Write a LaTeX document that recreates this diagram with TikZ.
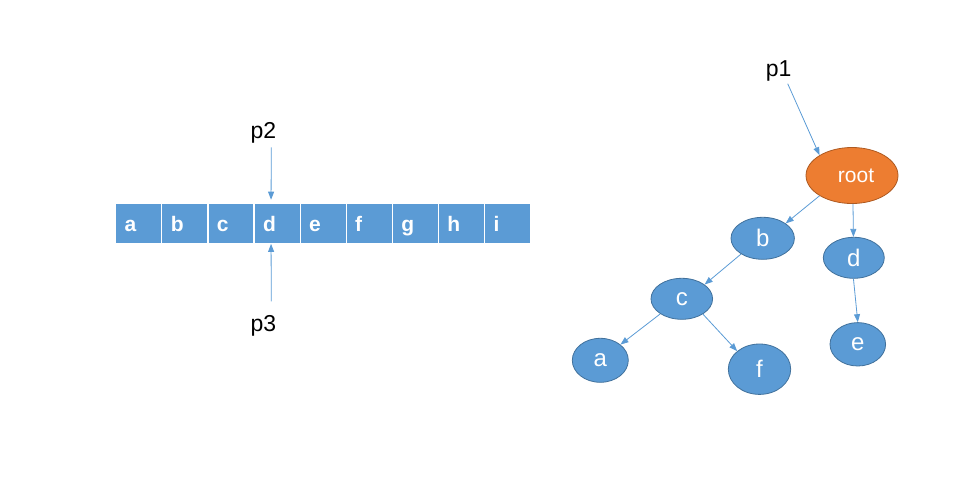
\documentclass[tikz,border=0pt]{standalone}
\usepackage{fontspec}
\setmainfont{Liberation Sans}
\usetikzlibrary{shapes.geometric,arrows.meta}
\definecolor{cellblue}{HTML}{5B9BD5}
\definecolor{edgeblue}{HTML}{41719C}
\definecolor{rootorange}{HTML}{ED7D31}
\definecolor{rootedge}{HTML}{AE5A21}
\begin{document}
\begin{tikzpicture}[x=1pt, y=-1pt,
  cell/.style={fill=cellblue, draw=white, line width=1.2pt, minimum height=40pt, text width=28.1pt, inner xsep=9pt, inner ysep=0pt, align=left, text height=16.8pt, text depth=0pt, text=white, font=\fontsize{21}{21}\selectfont\bfseries},
  ptr/.style={anchor=base, inner sep=2pt, font=\fontsize{23}{23}\selectfont},
  tnode/.style={ellipse, fill=cellblue, draw=edgeblue, line width=0.8pt, inner sep=0pt, text=white, font=\fontsize{24}{24}\selectfont},
  link/.style={draw=cellblue, line width=0.8pt, -{Triangle[length=8pt,width=6pt]}}]
\useasboundingbox (0,0) rectangle (980,483);
\foreach \ch [count=\i] in {a,b,c,d,e,f,g,h,i}
  \node[cell] (cell\ch) at ({138.75+46.1*(\i-1)}, 223.3) {\ch};
\node[ptr] (p2) at (263.3,138.3) {p2};
\node[ptr] (p3) at (263.3,331.7) {p3};
\node[ptr] (p1) at (778.7,76.7) {p1};
\draw[link] ([xshift=8pt,yshift=-2pt]p2.south) -- ([xshift=-6pt,yshift=3pt]celld.north);
\draw[link] ([xshift=8pt,yshift=12pt]p3.north) -- ([xshift=-6pt]celld.south);
\node[tnode, fill=rootorange, draw=rootedge, minimum width=92pt, minimum height=56pt, font=\fontsize{21}{21}\selectfont] (root) at (852,175.5) {\hspace*{8pt}root};
\node[tnode, minimum width=63.4pt, minimum height=42pt] (b) at (762.7,238.3) {b};
\node[tnode, minimum width=61pt, minimum height=41pt] (d) at (853.8,257.8) {d};
\node[tnode, minimum width=61.6pt, minimum height=41pt] (c) at (681.8,298.8) {c};
\node[tnode, minimum width=56pt, minimum height=44pt] (a) at (600.3,360.3) {a};
\node[tnode, minimum width=62.4pt, minimum height=50.4pt] (f) at (759.5,369.2) {f};
\node[tnode, minimum width=55.6pt, minimum height=43.4pt] (e) at (857.8,344.3) {e};
\draw[link] ([xshift=9pt]p1.south) -- (root.148);
\draw[link] (root.212) -- (b.33);
\draw[link] (root.272) -- (d.91);
\draw[link] (b.216) -- (c.32);
\draw[link] (c.215) -- (a.38);
\draw[link] (c.324) -- (f.141);
\draw[link] (d.269) -- (e.90);
\end{tikzpicture}
\end{document}
